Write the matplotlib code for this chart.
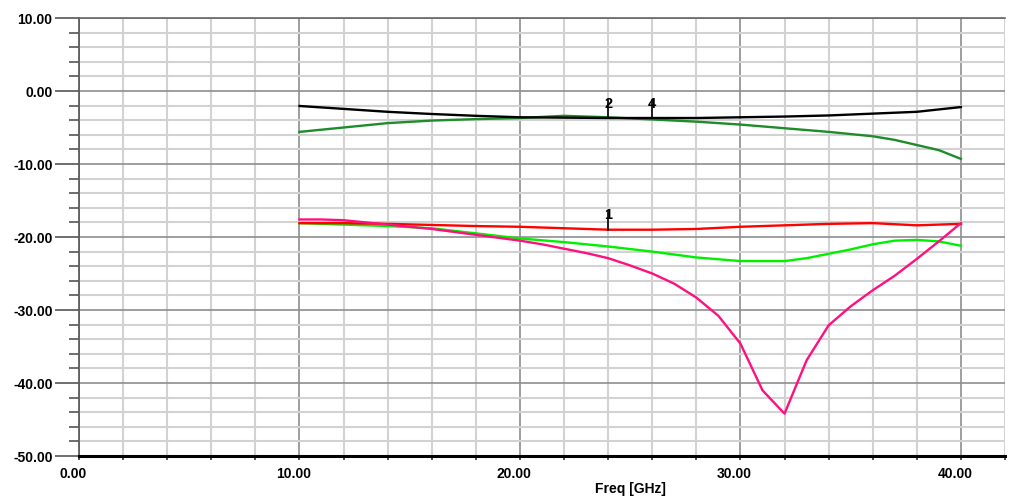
import numpy as np
import matplotlib
matplotlib.use("Agg")
import matplotlib.pyplot as plt
import matplotlib.transforms as mtransforms

# curve data (freq in GHz, value in dB)
freq_2g = [10, 12, 14, 16, 18, 20, 22, 24, 26, 28, 30, 32, 34, 36, 38, 40]
black_db = [-2.05, -2.45, -2.85, -3.15, -3.4, -3.6, -3.65, -3.7, -3.7, -3.7,
            -3.6, -3.5, -3.35, -3.1, -2.85, -2.2]
red_db = [-18.1, -18.1, -18.2, -18.35, -18.5, -18.6, -18.8, -19.0, -19.0,
          -18.9, -18.6, -18.4, -18.2, -18.1, -18.4, -18.2]

freq_dg = [10, 12, 14, 16, 18, 20, 22, 24, 26, 28, 30, 32, 34, 36, 37, 38, 39, 40]
dkgreen_db = [-5.6, -5.0, -4.4, -4.05, -3.85, -3.7, -3.4, -3.6, -3.9, -4.2,
              -4.6, -5.1, -5.6, -6.2, -6.7, -7.4, -8.1, -9.3]

freq_lg = [10, 12, 14, 16, 18, 20, 22, 24, 26, 28, 30, 32, 33, 34, 35, 36, 37, 38, 39, 40]
ltgreen_db = [-18.1, -18.3, -18.5, -18.8, -19.5, -20.2, -20.7, -21.3, -22.0,
              -22.8, -23.3, -23.3, -22.9, -22.3, -21.7, -21.0, -20.5, -20.4,
              -20.6, -21.2]

freq_pk = [10, 11, 12, 13, 14, 15, 16, 17, 18, 19, 20, 21, 22, 23, 24, 25, 26,
           27, 28, 29, 30, 31, 32, 33, 34, 35, 36, 37, 38, 39, 40]
pink_db = [-17.6, -17.6, -17.7, -18.0, -18.3, -18.6, -18.9, -19.3, -19.7, -20.1,
           -20.5, -21.0, -21.6, -22.2, -22.9, -23.9, -25.0, -26.4, -28.3, -30.8,
           -34.6, -41.0, -44.2, -36.9, -32.1, -29.5, -27.3, -25.3, -23.0, -20.6,
           -18.1]

# markers: label, freq, dB
marker_labels = ["1", "2", "4"]
marker_freq = [24, 24, 26]
marker_db = [-19.0, -3.7, -3.7]

x_ticks = [0, 10, 20, 30, 40]
y_ticks = [-50, -40, -30, -20, -10, 0, 10]

plt.rcParams["font.family"] = ["Liberation Sans", "DejaVu Sans"]

fig = plt.figure(figsize=(10.1, 4.98), dpi=100)
ax = fig.add_axes([79 / 1010, 1 - 456 / 498, (1005 - 79) / 1010, (456 - 18) / 498])

ax.set_xlim(0, 42)
ax.set_ylim(-50, 10)

ax.set_xticks(x_ticks)
ax.set_xticks(np.arange(0, 43, 2), minor=True)
ax.set_yticks(y_ticks)
ax.set_yticks(np.arange(-50, 11, 2), minor=True)
ax.set_xticklabels([f"{v:.2f}" for v in x_ticks], fontweight="bold", fontsize=10)
ax.set_yticklabels([f"{v:.2f}" for v in y_ticks], fontweight="bold", fontsize=10)

ax.grid(which="minor", color="#d2d2d2", lw=1.5, zorder=0)
ax.grid(which="major", color="#8e8e8e", lw=1.2, zorder=0)
ax.set_axisbelow(True)

ax.tick_params(axis="y", which="major", length=17, width=1.2, color="#555555", pad=2)
ax.tick_params(axis="y", which="minor", length=7, width=1.2, color="#555555")
ax.tick_params(axis="x", which="both", length=3, width=1.2, color="#333333", pad=5)

for lab in ax.get_xticklabels():
    lab.set_transform(lab.get_transform() +
                      mtransforms.ScaledTranslation(-0.06, 0, fig.dpi_scale_trans))

ax.spines["right"].set_visible(False)
ax.spines["top"].set_color("#666666")
ax.spines["top"].set_linewidth(1.2)
ax.spines["left"].set_color("#555555")
ax.spines["left"].set_linewidth(1.2)
ax.spines["bottom"].set_color("black")
ax.spines["bottom"].set_linewidth(2.2)

lw = 1.7
ax.plot(freq_lg, ltgreen_db, color="#00f000", lw=lw, zorder=3)
ax.plot(freq_2g, red_db, color="#ff0000", lw=lw, zorder=4)
ax.plot(freq_pk, pink_db, color="#ff1080", lw=lw, zorder=5)
ax.plot(freq_dg, dkgreen_db, color="#1e8c2a", lw=lw, zorder=3)
ax.plot(freq_2g, black_db, color="black", lw=lw, zorder=4)

for lab, f, v in zip(marker_labels, marker_freq, marker_db):
    ax.plot([f, f], [v, v + 2.4], color="black", lw=1.2, zorder=6)
    ax.text(f, v + 1.0, lab, ha="center", va="bottom", fontsize=10.5,
            fontweight="bold", color="black", zorder=6)

fig.text(630 / 1010, 1 - 489 / 498, "Freq [GHz]", ha="center", va="center",
         fontsize=10, fontweight="bold")

fig.savefig("out.png", dpi=100, facecolor="white")
